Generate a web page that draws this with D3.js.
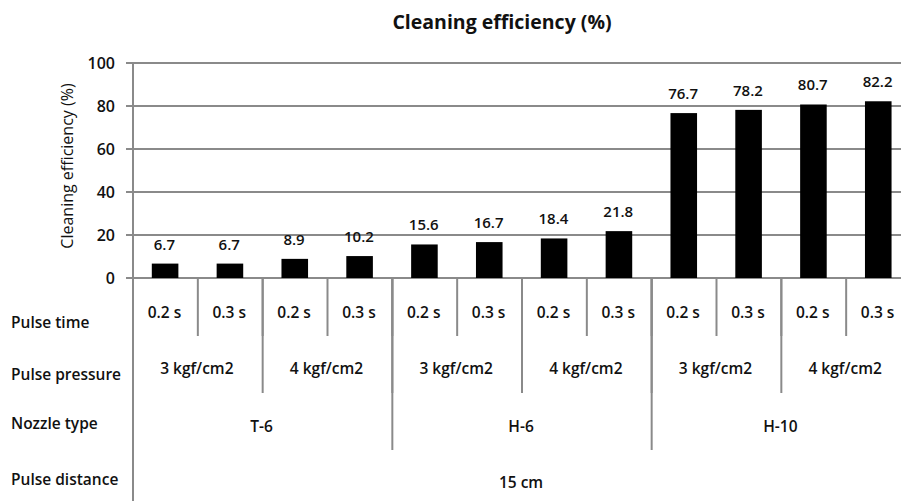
<!DOCTYPE html>
<html>
<head>
<meta charset="utf-8">
<script src="https://cdn.jsdelivr.net/npm/d3@7"></script>
<style>
  body { margin: 0; background: #fff; }
  svg { display: block; }
  text { font-family: "Open Sans", "Noto Sans", sans-serif; fill: #111; }
</style>
</head>
<body>
<svg id="chart" width="901" height="501"></svg>
<script>
// ── data ──
const pulseTimes = ['0.2 s', '0.3 s', '0.2 s', '0.3 s', '0.2 s', '0.3 s', '0.2 s', '0.3 s', '0.2 s', '0.3 s', '0.2 s', '0.3 s'];
const pressures = ['3 kgf/cm2', '4 kgf/cm2', '3 kgf/cm2', '4 kgf/cm2', '3 kgf/cm2', '4 kgf/cm2'];
const nozzles = ['T-6', 'H-6', 'H-10'];
const distances = ['15 cm'];
const values = [6.7, 6.7, 8.9, 10.2, 15.6, 16.7, 18.4, 21.8, 76.7, 78.2, 80.7, 82.2];
const yTicks = [0, 20, 40, 60, 80, 100];
const rowLabels = ['Pulse time', 'Pulse pressure', 'Nozzle type', 'Pulse distance'];

const LEFT = 133, RIGHT = 911, TOP = 63, BASE = 278;
const GRID = '#8a8a8a';

const svg = d3.select('#chart');
const idx = d3.range(values.length);

const x = d3.scaleBand().domain(idx).range([LEFT, RIGHT]).paddingInner(0).paddingOuter(0);
const y = d3.scaleLinear().domain([0, 100]).range([BASE, TOP]);
const bw = x.bandwidth();

// gridlines + ticks
svg.append('g').selectAll('line')
  .data(yTicks)
  .join('line')
  .attr('x1', LEFT - 7).attr('x2', RIGHT)
  .attr('y1', (d) => y(d)).attr('y2', (d) => y(d))
  .attr('stroke', GRID).attr('stroke-width', 2);

svg.append('g').selectAll('text')
  .data(yTicks)
  .join('text')
  .attr('x', LEFT - 18).attr('y', (d) => y(d) + 6)
  .attr('text-anchor', 'end')
  .attr('font-size', 16).attr('font-weight', 600)
  .text((d) => d);

// bars
svg.append('g').selectAll('rect')
  .data(values)
  .join('rect')
  .attr('x', (d, i) => x(i) + bw * 0.29)
  .attr('width', bw * 0.41)
  .attr('y', (d) => y(d))
  .attr('height', (d) => BASE - y(d))
  .attr('fill', '#000');

svg.append('g').selectAll('text')
  .data(values)
  .join('text')
  .attr('x', (d, i) => x(i) + bw / 2 - 1)
  .attr('y', (d) => y(d) - 14)
  .attr('text-anchor', 'middle')
  .attr('font-size', 15).attr('font-weight', 600)
  .text((d) => d.toFixed(1));

// category table below the axis
const rowY = [313, 369, 427, 483];          // text centres
const rowBottom = [336, 393, 450, 501];     // divider ends per level

function level(labels, depth) {
  const span = values.length / labels.length;
  const g = svg.append('g');
  g.selectAll('text')
    .data(labels)
    .join('text')
    .attr('x', (d, i) => x(i * span) + (bw * span) / 2 - 1)
    .attr('y', rowY[depth] + 5)
    .attr('text-anchor', 'middle')
    .attr('font-size', 15.5).attr('font-weight', 600)
    .text((d) => d);
  g.selectAll('line')
    .data(d3.range(1, labels.length))
    .join('line')
    .attr('x1', (i) => x(i * span)).attr('x2', (i) => x(i * span))
    .attr('y1', BASE).attr('y2', rowBottom[depth])
    .attr('stroke', GRID).attr('stroke-width', 2);
}
level(pulseTimes, 0);
level(pressures, 1);
level(nozzles, 2);
level(distances, 3);

svg.append('g').selectAll('text')
  .data(rowLabels)
  .join('text')
  .attr('x', 11)
  .attr('y', (d, i) => [323, 375, 424, 480][i] + 5)
  .attr('font-size', 15.5).attr('font-weight', 600)
  .text((d) => d);

// axis line
svg.append('line')
  .attr('x1', LEFT).attr('x2', LEFT)
  .attr('y1', TOP).attr('y2', 501)
  .attr('stroke', GRID).attr('stroke-width', 2);

// titles
svg.append('text')
  .attr('x', 502).attr('y', 29)
  .attr('text-anchor', 'middle')
  .attr('font-size', 19.5).attr('font-weight', 700)
  .text('Cleaning efficiency (%)');

svg.append('text')
  .attr('transform', 'translate(73,166) rotate(-90)')
  .attr('text-anchor', 'middle')
  .attr('font-size', 16)
  .text('Cleaning efficiency (%)');
</script>
</body>
</html>
